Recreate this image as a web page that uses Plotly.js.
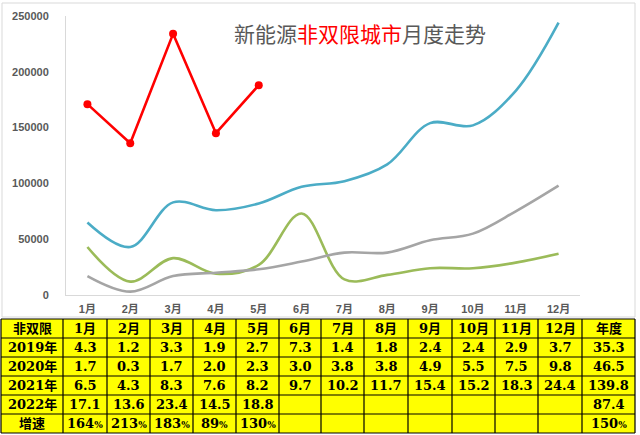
<!DOCTYPE html>
<html>
<head>
<meta charset="utf-8">
<script src="https://cdn.plot.ly/plotly-3.0.1.min.js"></script>
<style>html,body{margin:0;padding:0;background:#fff;}#chart{width:640px;height:435px;}</style>
</head>
<body>
<div id="chart"></div>
<script>
// Data (units: 万辆 in table, vehicles on chart)
const months = ['1月','2月','3月','4月','5月','6月','7月','8月','9月','10月','11月','12月'];
const v2019 = [4.3,1.2,3.3,1.9,2.7,7.3,1.4,1.8,2.4,2.4,2.9,3.7];
const v2020 = [1.7,0.3,1.7,2.0,2.3,3.0,3.8,3.8,4.9,5.5,7.5,9.8];
const v2021 = [6.5,4.3,8.3,7.6,8.2,9.7,10.2,11.7,15.4,15.2,18.3,24.4];
const v2022 = [17.1,13.6,23.4,14.5,18.8];
const growth = ['164%','213%','183%','89%','130%'];
const rowLabels = ['2019年','2020年','2021年','2022年','增速'];
const annual = ['35.3','46.5','139.8','87.4','150%'];
const cornerLabel = '非双限';
const annualLabel = '年度';
const UNIT = 10000;

const toVeh = a => a.map(v => v * UNIT);
const fmt = v => (v === undefined ? '' : v.toFixed(1));

const W = 640, H = 435;
const px = x => x / W;
const py = y => (H - y) / H;
const xDom = [px(66), px(580)];
const yDom = [py(295), py(16)];

const lineTraces = [
  {y: toVeh(v2021), color:'#4bacc6'},
  {y: toVeh(v2019), color:'#9bbb59'},
  {y: toVeh(v2020), color:'#a5a5a5'}
].map(s => ({
  type:'scatter', mode:'lines', x: months.slice(0, s.y.length), y: s.y,
  line:{color:s.color, width:2.6, shape:'spline', smoothing:1},
  hoverinfo:'skip', showlegend:false
}));

const redTrace = {
  type:'scatter', mode:'lines+markers', x: months.slice(0, v2022.length), y: toVeh(v2022),
  line:{color:'#ff0000', width:2.6}, marker:{color:'#ff0000', size:8},
  hoverinfo:'skip', showlegend:false
};

// table built from the arrays above
const header = [cornerLabel].concat(months, [annualLabel]);
const cols = [rowLabels];
months.forEach((m, i) => {
  cols.push([fmt(v2019[i]), fmt(v2020[i]), fmt(v2021[i]), fmt(v2022[i]), growth[i] || '']);
});
cols.push(annual);

// table geometry (pixels)
const colEdges = [1, 63, 107, 150, 193, 236, 279, 321, 364, 408, 452, 495, 538, 582, 635];
const rowEdges = [319, 338, 357, 376, 395, 414, 433];

const shapes = [
  {type:'rect', xref:'paper', yref:'paper', x0:px(2), x1:px(635), y0:py(317), y1:py(3),
   line:{color:'#d9d9d9', width:1}, fillcolor:'rgba(0,0,0,0)', layer:'below'},
  {type:'rect', xref:'paper', yref:'paper', x0:px(colEdges[0]), x1:px(colEdges[colEdges.length-1]),
   y0:py(rowEdges[rowEdges.length-1]), y1:py(rowEdges[0]),
   line:{width:0}, fillcolor:'#ffff00', layer:'below'}
];
colEdges.forEach(x => shapes.push({type:'line', xref:'paper', yref:'paper', x0:px(x), x1:px(x),
  y0:py(rowEdges[rowEdges.length-1]), y1:py(rowEdges[0]), line:{color:'#000', width:1.2}}));
rowEdges.forEach(y => shapes.push({type:'line', xref:'paper', yref:'paper', x0:px(colEdges[0]),
  x1:px(colEdges[colEdges.length-1]), y0:py(y), y1:py(y), line:{color:'#000', width:1.2}}));

const cellFont = {family:'"DejaVu Serif","Noto Sans CJK SC",serif', size:13, color:'#000', weight:'bold'};
const styleCell = t => {
  const s = String(t);
  return s.endsWith('%') ? '<b>' + s.slice(0, -1) + '<span style="font-size:9px">%</span></b>' : '<b>' + s + '</b>';
};
const annotations = [
  {xref:'paper', yref:'paper', x:px(360), y:py(33), xanchor:'center', yanchor:'middle', showarrow:false,
   text:'新能源<span style="color:#ff0000">非双限城市</span>月度走势',
   font:{family:'"Noto Sans CJK SC",sans-serif', size:21, color:'#595959'}}
];
cols.forEach((col, c) => {
  const xc = (colEdges[c] + colEdges[c+1]) / 2;
  const cells = [header[c]].concat(col);
  cells.forEach((t, r) => {
    if (t === '') return;
    const yc = (rowEdges[r] + rowEdges[r+1]) / 2;
    annotations.push({xref:'paper', yref:'paper', x:px(xc), y:py(yc), xanchor:'center', yanchor:'middle',
      showarrow:false, text:styleCell(t), font:cellFont});
  });
});

const tickFont = {family:'"Liberation Sans","Noto Sans CJK SC",sans-serif', size:11, color:'#595959', weight:'bold'};

const layout = {
  width:640, height:435,
  margin:{l:0, r:0, t:0, b:0},
  paper_bgcolor:'#ffffff', plot_bgcolor:'#ffffff',
  showlegend:false,
  xaxis:{
    domain:xDom, type:'category', range:[-0.5, 11.5], fixedrange:true,
    showgrid:false, zeroline:false, showline:true, linecolor:'#d9d9d9', linewidth:1,
    ticks:'', tickfont:tickFont, ticklabelstandoff:4, automargin:false
  },
  yaxis:{
    domain:yDom, range:[0, 250000], fixedrange:true, tickvals:[0,50000,100000,150000,200000,250000],
    ticktext:['0','50000','100000','150000','200000','250000'],
    showgrid:false, zeroline:false, showline:true, linecolor:'#d9d9d9', linewidth:1,
    ticks:'', tickfont:tickFont, ticklabelstandoff:14, automargin:false
  },
  shapes: shapes,
  annotations: annotations
};

Plotly.newPlot('chart', lineTraces.concat([redTrace]), layout, {staticPlot:true, displayModeBar:false});
</script>
</body>
</html>
